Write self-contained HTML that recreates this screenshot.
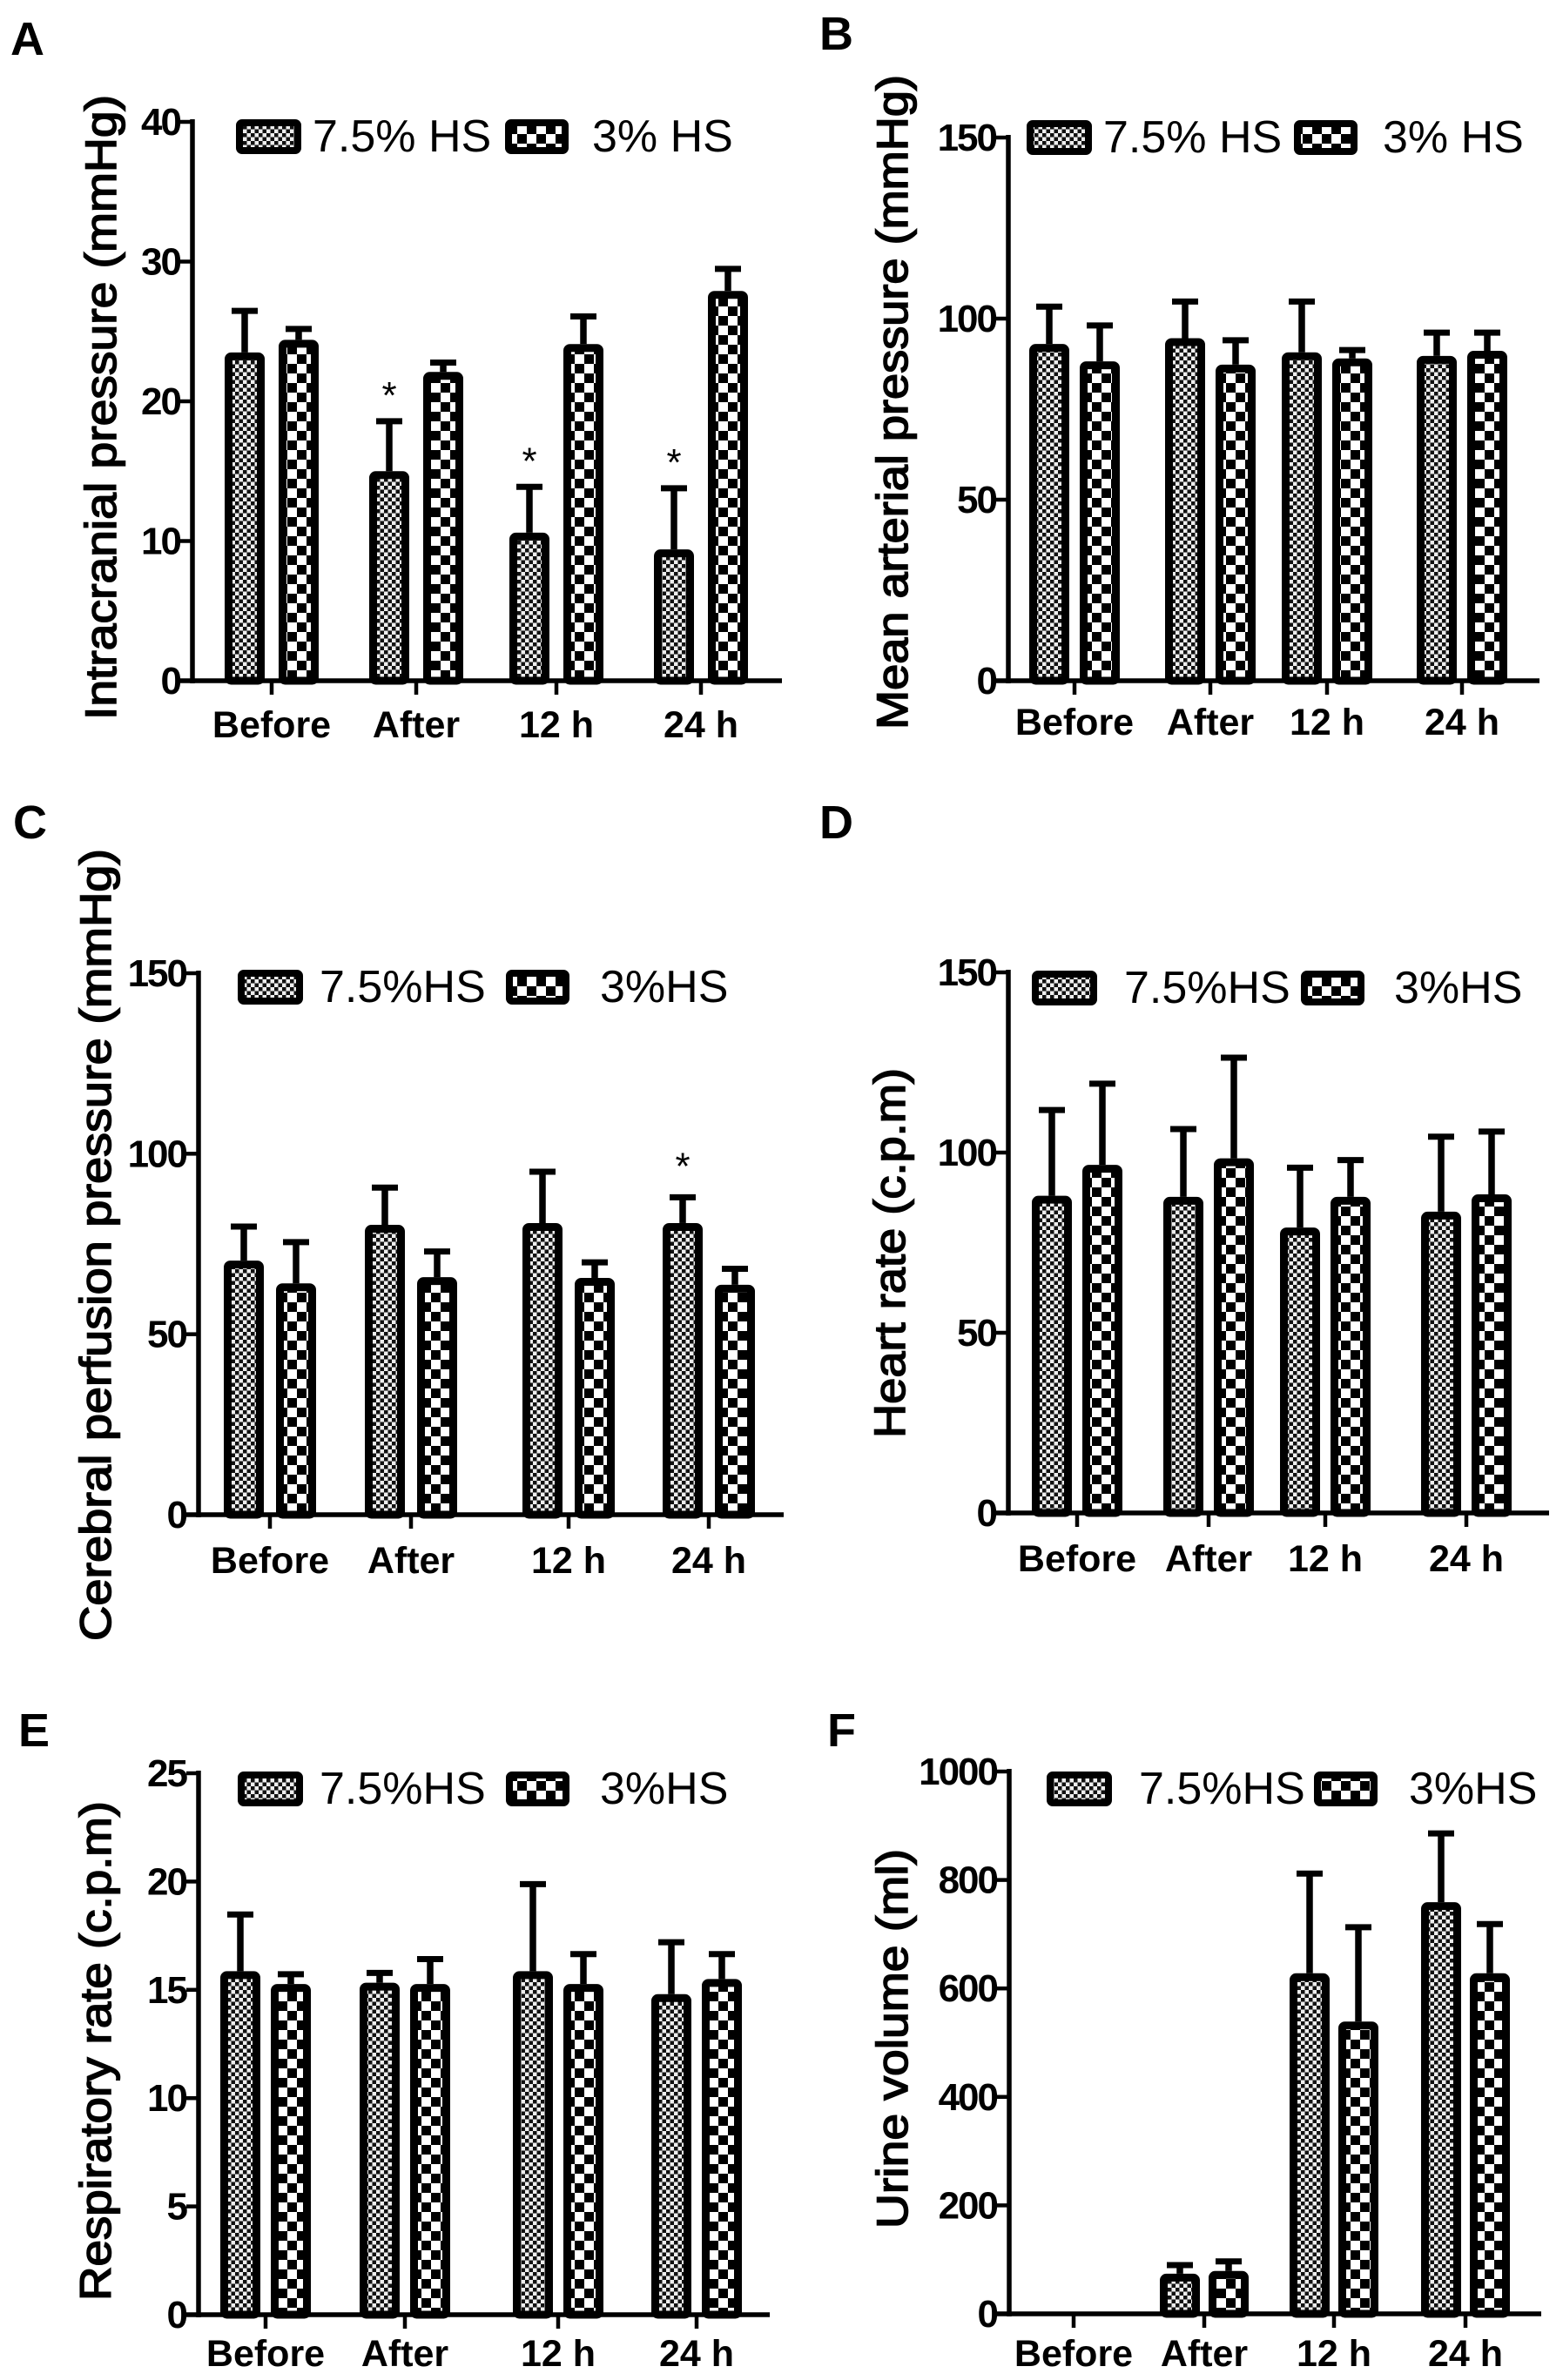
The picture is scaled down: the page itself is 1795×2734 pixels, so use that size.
<!DOCTYPE html>
<html><head><meta charset="utf-8">
<style>
html,body{margin:0;padding:0;background:#fff;}
svg{display:block;}
text{font-family:"Liberation Sans",Arial,sans-serif;fill:#000;}
</style></head>
<body>
<svg id="fig" xmlns="http://www.w3.org/2000/svg" width="1795" height="2734" viewBox="0 0 1795 2734">
<defs>
<pattern id="fine" patternUnits="userSpaceOnUse" width="9" height="9">
<rect width="9" height="9" fill="#eee"/>
<rect width="4.5" height="4.5" fill="#111"/>
<rect x="4.5" y="4.5" width="4.5" height="4.5" fill="#111"/>
</pattern>
<pattern id="coarse" patternUnits="userSpaceOnUse" width="22" height="22">
<rect width="22" height="22" fill="#fff"/>
<rect width="11" height="11" fill="#000"/>
<rect x="11" y="11" width="11" height="11" fill="#000"/>
</pattern>
</defs>
</svg>
<script>
const categories = ["Before", "After", "12 h", "24 h"];
// A: Intracranial pressure
const icp75 = [23.5, 15.0, 10.6, 9.4];
const icp75Err = [3.1, 3.7, 3.4, 4.5];
const icp3 = [24.4, 22.1, 24.1, 27.9];
const icp3Err = [0.9, 0.8, 2.1, 1.7];
const icpTicks = [0, 10, 20, 30, 40];
const icpStars = [1, 2, 3];
// B: Mean arterial pressure
const map75 = [93.0, 94.6, 90.7, 89.7];
const map75Err = [10.8, 10.6, 14.5, 6.9];
const map3 = [88.2, 87.3, 89.0, 91.1];
const map3Err = [10.4, 7.2, 2.8, 5.5];
const mapTicks = [0, 50, 100, 150];
// C: Cerebral perfusion pressure
const cpp75 = [70.4, 80.3, 80.8, 80.8];
const cpp75Err = [9.9, 10.8, 14.7, 7.6];
const cpp3 = [64.1, 65.8, 65.6, 63.7];
const cpp3Err = [11.9, 7.6, 4.8, 4.9];
const cppTicks = [0, 50, 100, 150];
const cppStars = [3];
// D: Heart rate
const hr75 = [88.0, 87.7, 79.2, 83.6];
const hr75Err = [24.3, 19.3, 17.1, 21.3];
const hr3 = [96.6, 98.4, 87.7, 88.4];
const hr3Err = [23.0, 28.4, 10.7, 17.9];
const hrTicks = [0, 50, 100, 150];
// E: Respiratory rate
const rr75 = [15.86, 15.33, 15.86, 14.8];
const rr75Err = [2.7, 0.53, 4.1, 2.48];
const rr3 = [15.27, 15.27, 15.27, 15.5];
const rr3Err = [0.53, 1.23, 1.46, 1.23];
const rrTicks = [0, 5, 10, 15, 20, 25];
// F: Urine volume
const uv75 = [0, 74, 628, 759];
const uv75Err = [0, 19, 187, 130];
const uv3 = [0, 79, 539, 628];
const uv3Err = [0, 21, 177, 94];
const uvTicks = [0, 200, 400, 600, 800, 1000];

const NS = "http://www.w3.org/2000/svg";
const svg = document.getElementById("fig");
function mk(tag, attrs, parent) {
  const e = document.createElementNS(NS, tag);
  for (const k in attrs) e.setAttribute(k, attrs[k]);
  (parent || svg).appendChild(e);
  return e;
}

const panels = [
  {key:"a", letter:"A", lx:12, ly:63, ax:221, top:140, zero:782, right:898, max:40, ticks:icpTicks,
   centers:[312,478,639,805], off:31, s1:icp75, e1:icp75Err, s2:icp3, e2:icp3Err, stars:icpStars, starGap:31,
   title:"Intracranial pressure (mmHg)", tx:115, tyTop:109, tyBot:827, xlBase:847,
   leg:{b1:271, t1:359, b2:580, t2:680, by:137, label1:"7.5% HS", label2:"3% HS"}},
  {key:"b", letter:"B", lx:941, ly:57, ax:1158, top:158, zero:782, right:1768, max:150, ticks:mapTicks,
   centers:[1234,1390,1524,1679], off:29, s1:map75, e1:map75Err, s2:map3, e2:map3Err, stars:[], starGap:31,
   title:"Mean arterial pressure (mmHg)", tx:1024, tyTop:86, tyBot:838, xlBase:844,
   leg:{b1:1179, t1:1267, b2:1486, t2:1588, by:138, label1:"7.5% HS", label2:"3% HS"}},
  {key:"c", letter:"C", lx:15, ly:963, ax:228, top:1118, zero:1740, right:900, max:150, ticks:cppTicks,
   centers:[310,472,653,814], off:30, s1:cpp75, e1:cpp75Err, s2:cpp3, e2:cpp3Err, stars:cppStars, starGap:37,
   title:"Cerebral perfusion pressure (mmHg)", tx:109, tyTop:975, tyBot:1885, xlBase:1807,
   leg:{b1:273, t1:367, b2:581, t2:689, by:1114, label1:"7.5%HS", label2:"3%HS"}},
  {key:"d", letter:"D", lx:941, ly:963, ax:1158, top:1117, zero:1738, right:1779, max:150, ticks:hrTicks,
   centers:[1237,1388,1522,1684], off:29, s1:hr75, e1:hr75Err, s2:hr3, e2:hr3Err, stars:[], starGap:31,
   title:"Heart rate (c.p.m)", tx:1021, tyTop:1227, tyBot:1652, xlBase:1805,
   leg:{b1:1185, t1:1291, b2:1494, t2:1601, by:1115, label1:"7.5%HS", label2:"3%HS"}},
  {key:"e", letter:"E", lx:21, ly:2006, ax:228, top:2037, zero:2659, right:884, max:25, ticks:rrTicks,
   centers:[305,465,641,800], off:29, s1:rr75, e1:rr75Err, s2:rr3, e2:rr3Err, stars:[], starGap:31,
   title:"Respiratory rate (c.p.m)", tx:109, tyTop:2069, tyBot:2643, xlBase:2718,
   leg:{b1:273, t1:367, b2:581, t2:689, by:2035, label1:"7.5%HS", label2:"3%HS"}},
  {key:"f", letter:"F", lx:950, ly:2006, ax:1159, top:2035, zero:2658, right:1770, max:1000, ticks:uvTicks,
   centers:[1233,1383,1532,1683], off:28, s1:uv75, e1:uv75Err, s2:uv3, e2:uv3Err, stars:[], starGap:31,
   title:"Urine volume (ml)", tx:1024, tyTop:2124, tyBot:2560, xlBase:2718,
   leg:{b1:1202, t1:1308, b2:1509, t2:1618, by:2035, label1:"7.5%HS", label2:"3%HS"}}
];

panels.forEach(p => {
  const g = mk("g", {});
  
  
  const y = v => p.zero - (v / p.max) * (p.zero - p.top);
  const x = i => p.centers[i];

  const letter = mk("text", {x:p.lx, y:p.ly, "font-size":54, "font-weight":"bold"}, g);
  letter.textContent = p.letter;
  
  

  const len = p.tyBot - p.tyTop;
  const cy = (p.tyTop + p.tyBot) / 2;
  const yt = mk("text", {x:0, y:0, "font-size":50, "text-anchor":"middle",
    transform:`translate(${p.tx + 18},${cy}) rotate(-90)`, textLength:len, lengthAdjust:"spacingAndGlyphs",
    "stroke":"#000", "stroke-width":1.6}, g);
  yt.textContent = p.title;
  
  

  const sets = [[p.s1, p.e1, "fine", -p.off, "bar-7-5-hs"], [p.s2, p.e2, "coarse", p.off, "bar-3-hs"]];
  sets.forEach(([vals, errs, pat, off, nm]) => {
    vals.forEach((v, i) => {
      if (v <= 0) return;
      const cx = x(i) + off;
      const yt2 = y(v), ye = y(v + errs[i]);
      const el = mk("line", {x1:cx, x2:cx, y1:yt2, y2:ye, stroke:"#000", "stroke-width":7.5}, g);
      
      
      const cap = mk("line", {x1:cx - 15, x2:cx + 15, y1:ye + 2, y2:ye + 2, stroke:"#000", "stroke-width":7}, g);
      
      
      const r = mk("rect", {x:cx - 18.5, y:yt2 + 4.5, width:37, height:Math.max(0, p.zero - yt2 - 4.5),
        fill:`url(#${pat})`, stroke:"#000", "stroke-width":9, rx:3}, g);
      
      
    });
  });

  p.stars.forEach(i => {
    const cx = x(i) - p.off;
    const st = mk("text", {x:cx, y:y(p.s1[i] + p.e1[i]) - p.starGap + 18, "font-size":44, "text-anchor":"middle"}, g);
    st.textContent = "*";
    
    
  });

  const ya = mk("line", {x1:p.ax, x2:p.ax, y1:p.top - 3, y2:p.zero + 3, stroke:"#000", "stroke-width":5.5}, g);
  
  
  const xa = mk("line", {x1:p.ax - 14, x2:p.right, y1:p.zero, y2:p.zero, stroke:"#000", "stroke-width":5.5}, g);
  
  

  p.ticks.forEach(t => {
    const ty = y(t);
    const tk = mk("line", {x1:p.ax - 14, x2:p.ax, y1:ty, y2:ty, stroke:"#000", "stroke-width":4.5}, g);
    
    
    const tl = mk("text", {x:p.ax - 14, y:ty + 15, "font-size":44, "font-weight":"bold", "text-anchor":"end", "letter-spacing":"-2"}, g);
    tl.textContent = t;
    
    
  });

  categories.forEach((c, i) => {
    const tk = mk("line", {x1:x(i), x2:x(i), y1:p.zero, y2:p.zero + 16, stroke:"#000", "stroke-width":4.5}, g);
    
    
    const tl = mk("text", {x:x(i), y:p.xlBase, "font-size":43, "font-weight":"bold", "text-anchor":"middle"}, g);
    tl.textContent = c;
    
    
  });

  const L = p.leg;
  const b1 = mk("rect", {x:L.b1 + 4, y:L.by + 4, width:67, height:32, fill:"url(#fine)", stroke:"#000", "stroke-width":8, rx:3}, g);
  
  
  const t1 = mk("text", {x:L.t1, y:L.by + 37, "font-size":52}, g);
  t1.textContent = L.label1;
  
  
  const b2 = mk("rect", {x:L.b2 + 4, y:L.by + 4, width:65, height:32, fill:"url(#coarse)", stroke:"#000", "stroke-width":8, rx:3}, g);
  
  
  const t2 = mk("text", {x:L.t2, y:L.by + 37, "font-size":52}, g);
  t2.textContent = L.label2;
  
  
});
</script>
</body></html>
